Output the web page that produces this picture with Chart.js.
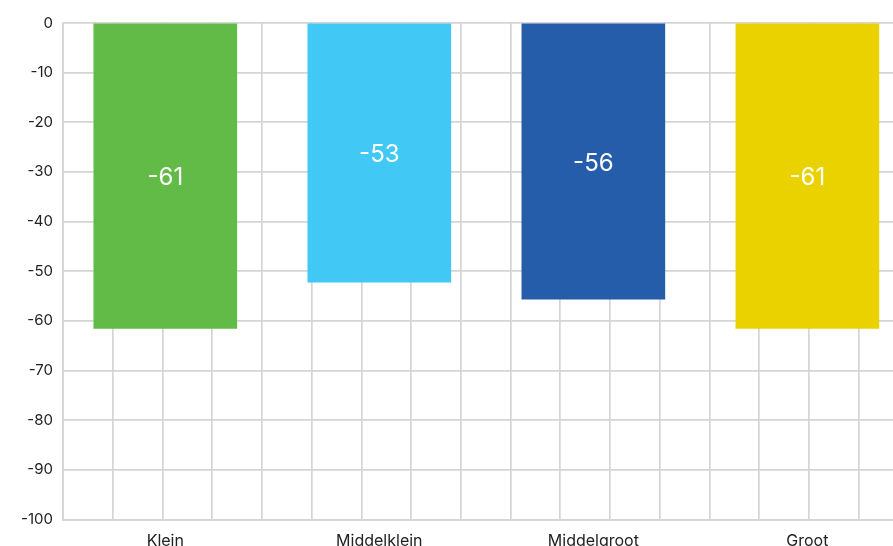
<!DOCTYPE html>
<html>
<head>
<meta charset="utf-8">
<script src="https://cdn.jsdelivr.net/npm/chart.js@4"></script>
<style>
    html, body { margin: 0; padding: 0; background: #fff; overflow: hidden; }
    #wrap { position: relative; width: 893px; height: 546px; }
</style>
</head>
<body>
<div id="wrap"><canvas id="sizes"></canvas></div>
<script>
// data
const categories = ['Klein', 'Middelklein', 'Middelgroot', 'Groot'];
const barValues = [-61.5, -52.2, -55.6, -61.5];
const barLabels = ['-61', '-53', '-56', '-61'];
const barColors = ['#62bb46', '#41c8f4', '#265dab', '#e9d200'];
const yTicks = [0, -10, -20, -30, -40, -50, -60, -70, -80, -90, -100];

const gridColor = '#d5d5d5';

Chart.defaults.font.family = 'Inter, "Noto Sans", sans-serif';
Chart.defaults.color = '#222222';

// white value text in the middle of each bar
const barValueLabels = {
    id: 'barValueLabels',
    afterDatasetsDraw(chart) {
        const ctx = chart.ctx;
        const meta = chart.getDatasetMeta(0);
        ctx.save();
        ctx.fillStyle = '#ffffff';
        ctx.font = '400 24px Inter, "Noto Sans", sans-serif';
        ctx.textAlign = 'center';
        ctx.textBaseline = 'middle';
        meta.data.forEach(function (bar, i) {
            const mid = (bar.y + bar.base) / 2;
            ctx.fillText(barLabels[i], bar.x, mid + 2);
        });
        ctx.restore();
    }
};

function createSizeChart() {

    let canvas = document.getElementById('sizes').getContext('2d');

    let points = barValues.map(function (v, i) {
        return { x: i, y: v };
    });

    new Chart(canvas, {
        type: 'bar',
        data: {
            datasets: [{
                data: points,
                backgroundColor: barColors,
                borderWidth: 0,
                barThickness: 143
            }]
        },
        options: {
            responsive: true,
            maintainAspectRatio: false,
            animation: false,
            layout: {
                padding: { top: 23, right: 0, bottom: 0, left: 0 }
            },
            plugins: {
                legend: { display: false },
                tooltip: { enabled: false }
            },
            scales: {
                x: {
                    type: 'linear',
                    position: 'bottom',
                    offset: false,
                    min: -0.478,
                    max: 3.4,
                    grid: { display: false, offset: false },
                    border: { display: true, color: gridColor, width: 1.7 },
                    afterFit: function (scale) { scale.height = 26.5; },
                    ticks: {
                        stepSize: 1,
                        includeBounds: false,
                        padding: 4,
                        maxRotation: 0,
                        font: { size: 16 },
                        callback: function (value) {
                            return categories[value] !== undefined ? categories[value] : '';
                        }
                    }
                },
                x2: {
                    type: 'linear',
                    position: 'bottom',
                    offset: false,
                    min: 0,
                    max: 16.69,
                    grid: { color: gridColor, lineWidth: 1.7, drawTicks: false, offset: false },
                    border: { display: false },
                    ticks: { display: false, stepSize: 1, includeBounds: false }
                },
                y: {
                    min: -100,
                    max: 0,
                    afterFit: function (scale) { scale.width = 63; },
                    grid: { color: gridColor, lineWidth: 1.7, drawTicks: false },
                    border: { display: true, color: gridColor, width: 1.7 },
                    afterBuildTicks: function (scale) {
                        scale.ticks = yTicks.map(function (v) { return { value: v }; });
                    },
                    ticks: {
                        padding: 10,
                        font: { size: 15 }
                    }
                }
            }
        },
        plugins: [barValueLabels]
    });
}

createSizeChart();
</script>
</body>
</html>
